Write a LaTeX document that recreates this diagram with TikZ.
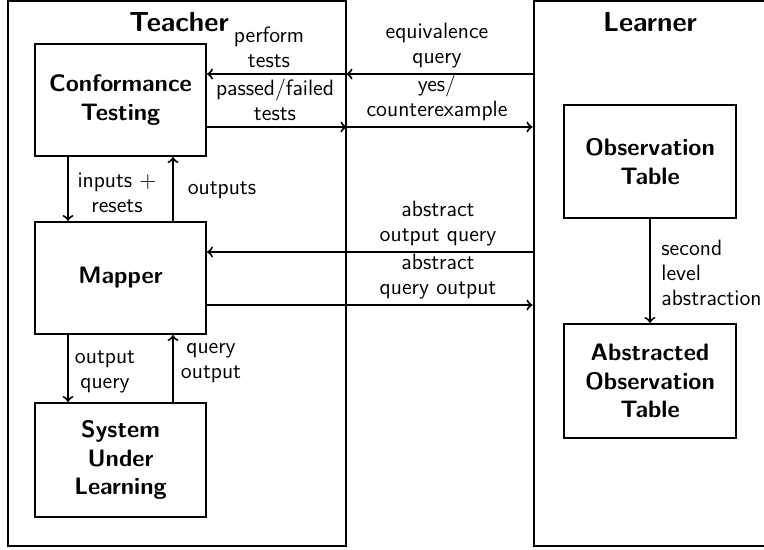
\documentclass[tikz,border=0pt]{standalone}
\renewcommand{\familydefault}{\sfdefault}
\begin{document}
\begin{tikzpicture}[x=0.5pt,y=-0.5pt,
  frame/.style={draw, line width=1pt, inner sep=0pt},
  box/.style={draw, line width=1pt, align=center, inner sep=0pt,
    font=\fontsize{11.9}{14.3}\selectfont\bfseries},
  title/.style={font=\fontsize{13.8}{16}\selectfont\bfseries, inner sep=0pt},
  arr/.style={->, line width=1pt},
  lbl/.style={align=center, inner sep=0pt, font=\fontsize{11.1}{12.3}\selectfont},
  lbll/.style={lbl, align=left},
]
\useasboundingbox (0,0) rectangle (764,550);
\clip (0,0) rectangle (764,550);

% outer frames
\node[frame, minimum width=168.75pt, minimum height=272.5pt] (teacher) at (176.75,273.5) {};
\node[frame, minimum width=123.25pt, minimum height=272.5pt] (learner) at (656.75,273.5) {};
\node[title] (teacherTitle) at (179,22) {Teacher};
\node[title] (learnerTitle) at (650,22) {Learner};

% teacher components
\node[box, minimum width=85.5pt, minimum height=56pt] (ct) at (120.5,100) {Conformance\\Testing};
\node[box, minimum width=85.5pt, minimum height=56pt] (mapper) at (120.5,278) {Mapper};
\node[box, minimum width=85.5pt, minimum height=57pt] (sul) at (120.5,460) {System\\Under\\Learning};

% learner components
\node[box, minimum width=86pt, minimum height=56.5pt] (ot) at (650,161.5) {Observation\\Table};
\node[box, minimum width=86pt, minimum height=57pt] (aot) at (650,381) {Abstracted\\Observation\\Table};

% heights of the horizontal connectors
\coordinate (yEq) at (0,74);
\coordinate (yCx) at (0,127);
\coordinate (yAoq) at (0,252);
\coordinate (yAqo) at (0,305);
% columns of the vertical connectors
\coordinate (xDown) at (68,0);
\coordinate (xUp) at (173,0);

% equivalence query and its answer
\draw[arr] (learner.west |- yEq) -- (teacher.east |- yEq);
\draw[arr] (teacher.east |- yEq) -- (ct.east |- yEq);
\draw[arr] (ct.east |- yCx) -- (teacher.east |- yCx);
\draw[arr] (teacher.east |- yCx) -- (learner.west |- yCx);
\node[lbl, anchor=south] (lPerform) at (269,68) {perform\\tests};
\node[lbl, anchor=south] (lEquiv) at (437,68) {equivalence\\query};
\node[lbl, anchor=south] (lPassed) at (275,121) {passed/failed\\tests};
\node[lbl, anchor=south] (lYes) at (437,121) {yes/\\counterexample};

% abstract queries
\draw[arr] (learner.west |- yAoq) -- (mapper.east |- yAoq);
\draw[arr] (mapper.east |- yAqo) -- (learner.west |- yAqo);
\node[lbl, anchor=south] (lAoq) at (438,246) {abstract\\output query};
\node[lbl, anchor=south] (lAqo) at (438,299) {abstract\\query output};

% conformance testing <-> mapper
\draw[arr] (ct.south -| xDown) -- (mapper.north -| xDown);
\draw[arr] (mapper.north -| xUp) -- (ct.south -| xUp);
\node[lbl] (lInputs) at (117,193) {inputs $+$\\resets};
\node[lbl] (lOutputs) at (222,190) {outputs};

% mapper <-> system under learning
\draw[arr] (mapper.south -| xDown) -- (sul.north -| xDown);
\draw[arr] (sul.north -| xUp) -- (mapper.south -| xUp);
\node[lbl] (lOq) at (105,372) {output\\query};
\node[lbl] (lQo) at (211,363) {query\\output};

% observation table -> abstracted observation table
\draw[arr] (ot) -- (aot);
\node[lbll, anchor=west] (lSecond) at (661,273) {second\\level\\abstraction};
\end{tikzpicture}
\end{document}
